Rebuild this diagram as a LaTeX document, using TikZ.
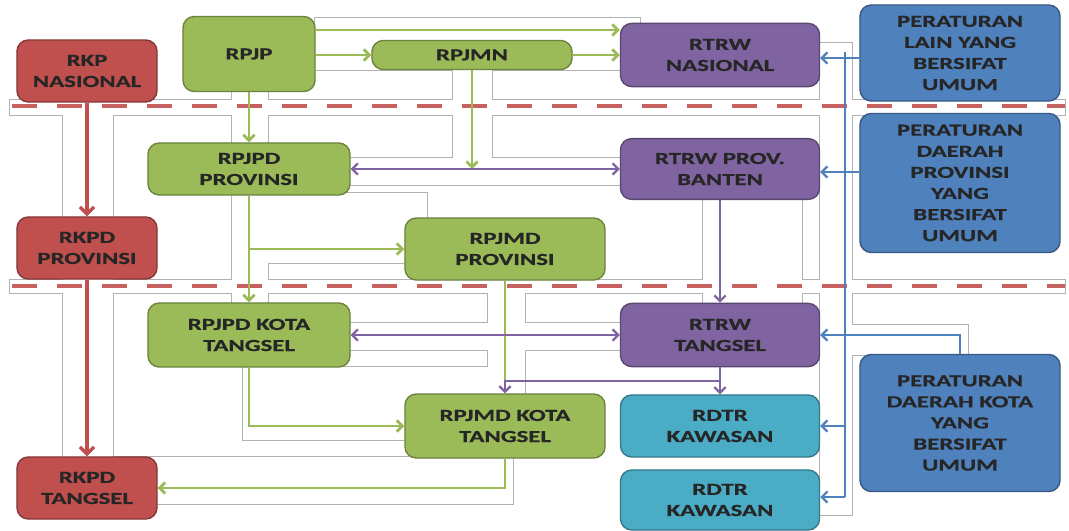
\documentclass[tikz,border=0pt]{standalone}
\usepackage{fontspec}
\setmainfont{Carlito}[FakeStretch=1.47,BoldFont={Carlito Bold},BoldFeatures={FakeBold=0.6}]
\usetikzlibrary{arrows.meta,positioning,calc}
\definecolor{rkpred}{HTML}{C0504D}
\definecolor{rpgreen}{HTML}{9BBB59}
\definecolor{rtpurple}{HTML}{8064A2}
\definecolor{rdteal}{HTML}{4BACC6}
\definecolor{perblue}{HTML}{4F81BD}
\tikzset{
  box/.style={rounded corners=8pt,line width=1pt,align=center,inner sep=1pt,
    font=\bfseries\fontsize{12}{15}\selectfont,text=black!85},
  redbox/.style={box,fill=rkpred,draw=rkpred!70!black,minimum width=3.5cm,minimum height=1.55cm},
  greenbox/.style={box,fill=rpgreen,draw=rpgreen!70!black,minimum width=5cm},
  purplebox/.style={box,fill=rtpurple,draw=rtpurple!70!black,minimum width=4.975cm,minimum height=1.58cm},
  tealbox/.style={box,fill=rdteal,draw=rdteal!70!black,minimum width=4.975cm},
  bluebox/.style={box,fill=perblue,draw=perblue!70!black,minimum width=5cm},
  redarr/.style={-{Straight Barb[length=5pt,width=10pt]},line width=2.4pt,draw=rkpred},
  greenarr/.style={-{Straight Barb[length=4pt,width=8pt]},line width=2pt,draw=rpgreen},
  greenline/.style={line width=2pt,draw=rpgreen},
  purplearr/.style={-{Straight Barb[length=4pt,width=8pt]},line width=1.6pt,draw=rtpurple},
  purplebi/.style={purplearr,{Straight Barb[length=4pt,width=8pt]}-{Straight Barb[length=4pt,width=8pt]}},
  bluearr/.style={-{Straight Barb[length=4pt,width=8pt]},line width=1.6pt,draw=perblue},
  band/.style={draw=rkpred!90!white,line width=3.2pt,dash pattern=on 18pt off 14pt},
  corridor/.style={draw=black!30,line width=1.4pt}
}

\begin{document}
\begin{tikzpicture}[x=0.025cm,y=-0.025cm]
  \useasboundingbox (0,0) rectangle (1069,531);
  % faint corridors behind the chart
  \foreach \xa/\ya/\xb/\yb in {10/100/1065/115, 10/280/1065/293, 63/100/113/460,
      232/92/268/143, 232/195/268/303, 315/18/640/70, 453/69/492/158,
      350/158/621/185, 268/193/427/263, 488/280/525/395, 350/323/621/350,
      243/367/513/440, 113/457/513/504, 820/43/852/515, 852/325/968/355,
      703/198/802/303}
    \draw[corridor] (\xa,\ya) rectangle (\xb,\yb);
  \foreach \xa/\ya/\xb/\yb in {10/100/1065/115, 10/280/1065/293, 63/100/113/460,
      232/92/268/143, 232/195/268/303, 315/18/640/70, 453/69/492/158,
      350/158/621/185, 268/193/427/263, 488/280/525/395, 350/323/621/350,
      243/367/513/440, 113/457/513/504, 820/43/852/515, 852/325/968/355,
      703/198/802/303}
    \fill[white] (\xa,\ya) rectangle (\xb,\yb);
  % level separators
  \draw[band] (12,106) -- (1065,106);
  \draw[band] (12,286) -- (1065,286);

  % boxes
  \node[redbox] (rkpnas) at (87,71) {RKP\\NASIONAL};
  \node[redbox] (rkpdprov) at (87,248) {RKPD\\PROVINSI};
  \node[redbox] (rkpdtgs) at (87,488) {RKPD\\TANGSEL};
  \node[greenbox,minimum width=3.3cm,minimum height=1.875cm] (rpjp) at (249,54) {RPJP};
  \node[greenbox,minimum height=0.725cm] (rpjmn) at (472,55) {RPJMN};
  \node[greenbox,minimum width=5.05cm,minimum height=1.3cm] (rpjpdprov) at (249,169) {RPJPD\\PROVINSI};
  \node[greenbox,minimum height=1.55cm] (rpjmdprov) at (505,249) {RPJMD\\PROVINSI};
  \node[greenbox,minimum width=5.05cm,minimum height=1.6cm] (rpjpdkota) at (249,335) {RPJPD KOTA\\TANGSEL};
  \node[greenbox,minimum height=1.6cm] (rpjmdkota) at (505,426) {RPJMD KOTA\\TANGSEL};
  \node[purplebox] (rtrwnas) at (720,55) {RTRW\\NASIONAL};
  \node[purplebox,minimum height=1.52cm] (rtrwprov) at (720,169) {RTRW PROV.\\BANTEN};
  \node[purplebox] (rtrwtgs) at (720,335) {RTRW\\TANGSEL};
  \node[tealbox,minimum height=1.55cm] (rdtra) at (720,426) {RDTR\\KAWASAN};
  \node[tealbox,minimum height=1.5cm] (rdtrb) at (720,500) {RDTR\\KAWASAN};
  \node[bluebox,minimum height=2.4cm] (perlain) at (960,53) {PERATURAN\\LAIN YANG\\BERSIFAT\\UMUM};
  \node[bluebox,minimum height=3.475cm] (perprov) at (960,183) {PERATURAN\\DAERAH\\PROVINSI\\YANG\\BERSIFAT\\UMUM};
  \node[bluebox,minimum height=3.425cm] (perkota) at (960,423) {PERATURAN\\DAERAH KOTA\\YANG\\BERSIFAT\\UMUM};

  % RKP chain
  \draw[redarr] (rkpnas) -- (rkpdprov);
  \draw[redarr] (rkpdprov) -- (rkpdtgs);

  % RPJP chain
  \coordinate (ytop) at (0,30);
  \coordinate (ymerge) at (0,381);
  \draw[greenarr] (rpjp.east |- ytop) -- (rtrwnas.west |- ytop);
  \draw[greenarr] (rpjp.east |- rpjmn.west) -- (rpjmn.west);
  \draw[greenarr] (rpjmn.east) -- (rtrwnas.west |- rpjmn.east);
  \draw[greenarr] (rpjp.south) -- (rpjpdprov.north);
  \draw[greenarr] (rpjmn.south) -- (rpjmn.south |- rpjpdprov.east);
  \draw[greenarr] (rpjpdprov.south) -- (rpjpdkota.north);
  \draw[greenarr] (rpjpdprov.south |- rpjmdprov.west) -- (rpjmdprov.west);
  \draw[greenline] (rpjmdprov.south) -- (rpjmdprov.south |- ymerge);
  \draw[greenarr] (rpjpdkota.south) |- (rpjmdkota.west);
  \draw[greenarr] (rpjmdkota.south) |- (rkpdtgs.east);

  % RTRW chain
  \draw[purplebi] (rpjpdprov.east) -- (rtrwprov.west);
  \draw[purplearr] (rtrwprov.south) -- (rtrwtgs.north);
  \draw[purplebi] (rpjpdkota.east) -- (rtrwtgs.west);
  \draw[purplearr] (rtrwtgs.south) -- (rdtra.north);
  \draw[purplearr] (rtrwtgs.south |- ymerge) -| (rpjmdkota.north);

  % peraturan
  \coordinate (bustop) at (845,52);
  \coordinate (busnas) at (845,58);
  \coordinate (busprov) at (845,172);
  \coordinate (busbot) at (845,497);
  \draw[perblue,line width=1.6pt] (bustop) -- (busbot);
  \draw[bluearr] (perlain.west |- busnas) -- (rtrwnas.east |- busnas);
  \draw[bluearr] (perprov.west |- busprov) -- (rtrwprov.east |- busprov);
  \draw[bluearr] (busbot |- rdtra.east) -- (rdtra.east);
  \draw[bluearr] (busbot) -- (rdtrb.east |- busbot);
  \draw[bluearr] (perkota.north) |- (rtrwtgs.east);
\end{tikzpicture}
\end{document}
